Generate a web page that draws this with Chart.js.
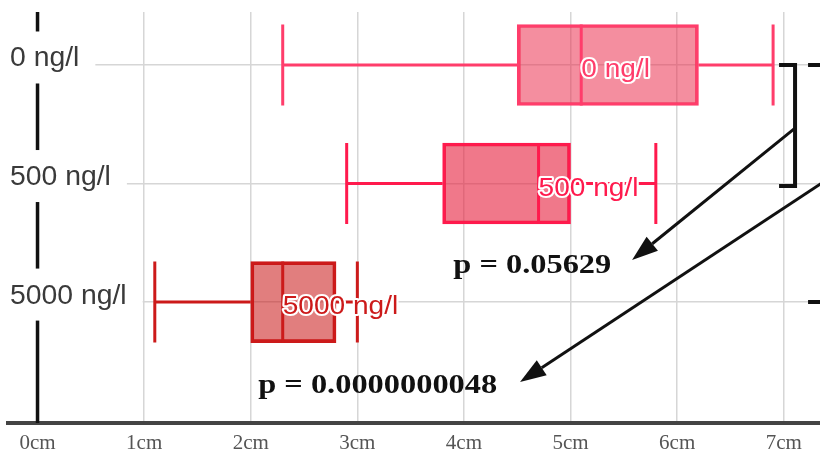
<!DOCTYPE html>
<html>
<head>
<meta charset="utf-8">
<title>Boxplot ng/l</title>
<script src="https://cdn.jsdelivr.net/npm/chart.js@4/dist/chart.umd.min.js"></script>
<style>
  html, body { margin: 0; padding: 0; background: #fff; }
  canvas { display: block; }
</style>
</head>
<body>
<canvas id="boxChart" width="820" height="450"></canvas>
<script>
// rows (concentration) and the five-number summary of each, in cm
var categories = ['0 ng/l', '500 ng/l', '5000 ng/l'];
var minValues = [2.3, 2.9, 1.1];
var q1Values = [4.5, 3.8, 2.0];
var medianValues = [5.1, 4.7, 2.3];
var q3Values = [6.2, 5.0, 2.8];
var maxValues = [6.9, 5.8, 3.0];
var xTickLabels = ['0cm', '1cm', '2cm', '3cm', '4cm', '5cm', '6cm', '7cm'];
var pLabels = ['p = 0.05629', 'p = 0.0000000048'];

var strokeColors = ['#ff3d6b', '#ff1a4d', '#cc1a1a'];
var fillColors = ['rgba(235,50,80,0.55)', 'rgba(230,30,60,0.6)', 'rgba(200,20,20,0.55)'];
var boxHeight = 81;

// annotation anchors, in axis units (cm, row index)
var pAnchors = [{x: 3.9, y: 1.755}, {x: 2.07, y: 2.768}];
var arrows = [
    {from: {x: 7.106, y: 0.532}, to: {x: 5.577, y: 1.646}},
    {from: {x: 7.62, y: 0.84}, to: {x: 4.526, y: 2.675}}
];
var brackets = [
    {x1: 6.956, x2: 7.106, y1: 0, y2: 1.02},
    {x1: 7.228, x2: 7.6, y1: 0, y2: 2.0}
];

function stretchedText(ctx, text, x, y, sx, outline) {
    ctx.save();
    ctx.translate(x, y);
    ctx.scale(sx, 1);
    if (outline) {
        ctx.strokeText(text, 0, 0);
    }
    ctx.fillText(text, 0, 0);
    ctx.restore();
}

function drawArrow(ctx, x1, y1, x2, y2) {
    let ang = Math.atan2(y2 - y1, x2 - x1);
    let len = 26, half = 9;
    let bx = x2 - len * Math.cos(ang), by = y2 - len * Math.sin(ang);
    ctx.beginPath();
    ctx.moveTo(x1, y1);
    ctx.lineTo(bx, by);
    ctx.stroke();
    ctx.beginPath();
    ctx.moveTo(x2, y2);
    ctx.lineTo(bx + half * Math.sin(ang), by - half * Math.cos(ang));
    ctx.lineTo(bx - half * Math.sin(ang), by + half * Math.cos(ang));
    ctx.closePath();
    ctx.fill();
}

var boxPlotExtras = {
    id: 'boxPlotExtras',
    beforeDatasetsDraw(chart) {
        let ctx = chart.ctx, xs = chart.scales.x, ys = chart.scales.y, area = chart.chartArea;
        ctx.save();
        // black zero line, broken by the row labels
        ctx.strokeStyle = '#111';
        ctx.lineWidth = 3.5;
        ctx.beginPath();
        ctx.moveTo(xs.getPixelForValue(0), area.top);
        ctx.lineTo(xs.getPixelForValue(0), area.bottom);
        ctx.stroke();

        ctx.font = '27px "Liberation Sans", Arial, sans-serif';
        ctx.textBaseline = 'alphabetic';
        ctx.textAlign = 'left';
        categories.forEach((label, i) => {
            let base = ys.getPixelForValue(i) + 1.5;
            let w = ctx.measureText(label).width * 1.05;
            ctx.fillStyle = '#fff';
            ctx.fillRect(0, base - 35, 10 + w + 16, 52);
            ctx.fillStyle = '#3a3a3a';
            stretchedText(ctx, label, 10, base, 1.05, false);
        });
        ctx.restore();
    },
    afterDatasetsDraw(chart) {
        let ctx = chart.ctx, xs = chart.scales.x, ys = chart.scales.y;
        ctx.save();
        ctx.lineCap = 'butt';
        categories.forEach((label, i) => {
            let cy = ys.getPixelForValue(i);
            let top = cy - boxHeight / 2, bottom = cy + boxHeight / 2;
            ctx.strokeStyle = strokeColors[i];
            ctx.lineWidth = 3;
            ctx.beginPath();
            // whiskers
            ctx.moveTo(xs.getPixelForValue(minValues[i]), cy);
            ctx.lineTo(xs.getPixelForValue(q1Values[i]), cy);
            ctx.moveTo(xs.getPixelForValue(q3Values[i]), cy);
            ctx.lineTo(xs.getPixelForValue(maxValues[i]), cy);
            // caps
            ctx.moveTo(xs.getPixelForValue(minValues[i]), top);
            ctx.lineTo(xs.getPixelForValue(minValues[i]), bottom);
            ctx.moveTo(xs.getPixelForValue(maxValues[i]), top);
            ctx.lineTo(xs.getPixelForValue(maxValues[i]), bottom);
            // median
            ctx.moveTo(xs.getPixelForValue(medianValues[i]), top);
            ctx.lineTo(xs.getPixelForValue(medianValues[i]), bottom);
            ctx.stroke();
        });

        // row names inside the boxes, white halo
        ctx.font = '26px "Liberation Sans", Arial, sans-serif';
        ctx.textAlign = 'left';
        ctx.textBaseline = 'alphabetic';
        ctx.lineJoin = 'round';
        ctx.strokeStyle = '#fff';
        ctx.lineWidth = 4;
        categories.forEach((label, i) => {
            ctx.fillStyle = strokeColors[i];
            stretchedText(ctx, label, xs.getPixelForValue(medianValues[i]), ys.getPixelForValue(i) + 12, 1.08, true);
        });

        // p-values
        ctx.font = 'bold 27px "Liberation Serif", "Times New Roman", serif';
        ctx.fillStyle = '#111';
        pLabels.forEach((txt, i) => {
            stretchedText(ctx, txt, xs.getPixelForValue(pAnchors[i].x), ys.getPixelForValue(pAnchors[i].y), 1.2, false);
        });

        // arrows
        ctx.strokeStyle = '#111';
        ctx.fillStyle = '#111';
        ctx.lineWidth = 3;
        arrows.forEach((a) => {
            drawArrow(ctx, xs.getPixelForValue(a.from.x), ys.getPixelForValue(a.from.y),
                xs.getPixelForValue(a.to.x), ys.getPixelForValue(a.to.y));
        });

        // brackets
        ctx.lineWidth = 4;
        ctx.lineJoin = 'miter';
        brackets.forEach((b) => {
            ctx.beginPath();
            ctx.moveTo(xs.getPixelForValue(b.x1), ys.getPixelForValue(b.y1));
            ctx.lineTo(xs.getPixelForValue(b.x2), ys.getPixelForValue(b.y1));
            ctx.lineTo(xs.getPixelForValue(b.x2), ys.getPixelForValue(b.y2));
            ctx.lineTo(xs.getPixelForValue(b.x1), ys.getPixelForValue(b.y2));
            ctx.stroke();
        });
        ctx.restore();
    }
};

var chartConfig = {
    type: 'bar',
    data: {
        datasets: [{
            label: 'Länge',
            data: categories.map((c, i) => ({x: [q1Values[i], q3Values[i]], y: i})),
            backgroundColor: fillColors,
            borderColor: strokeColors,
            borderWidth: 3,
            borderSkipped: false,
            barThickness: boxHeight
        }]
    },
    options: {
        indexAxis: 'y',
        responsive: false,
        animation: false,
        events: [],
        layout: {
            padding: {top: 12, left: 8, right: 0, bottom: 0}
        },
        plugins: {
            legend: {display: false},
            tooltip: {enabled: false}
        },
        scales: {
            x: {
                type: 'linear',
                position: 'bottom',
                min: -0.277,
                max: 7.34,
                afterFit: (s) => { s.height = 27; },
                border: {display: true, color: '#444', width: 4},
                grid: {color: '#d6d6d6', lineWidth: 1.5, drawTicks: false},
                ticks: {
                    stepSize: 1,
                    includeBounds: false,
                    padding: 8,
                    color: '#555',
                    font: {family: '"Liberation Serif", "Times New Roman", serif', size: 21},
                    callback: (v) => xTickLabels[v]
                }
            },
            y: {
                type: 'linear',
                reverse: true,
                offset: false,
                min: -0.447,
                max: 3.02,
                afterBuildTicks: (s) => { s.ticks = categories.map((c, i) => ({value: i})); },
                border: {display: false},
                grid: {color: '#d6d6d6', lineWidth: 1.5, drawTicks: false, offset: false},
                ticks: {display: false}
            }
        }
    },
    plugins: [boxPlotExtras]
};

var boxChart = new Chart(document.getElementById('boxChart'), chartConfig);
</script>
</body>
</html>
